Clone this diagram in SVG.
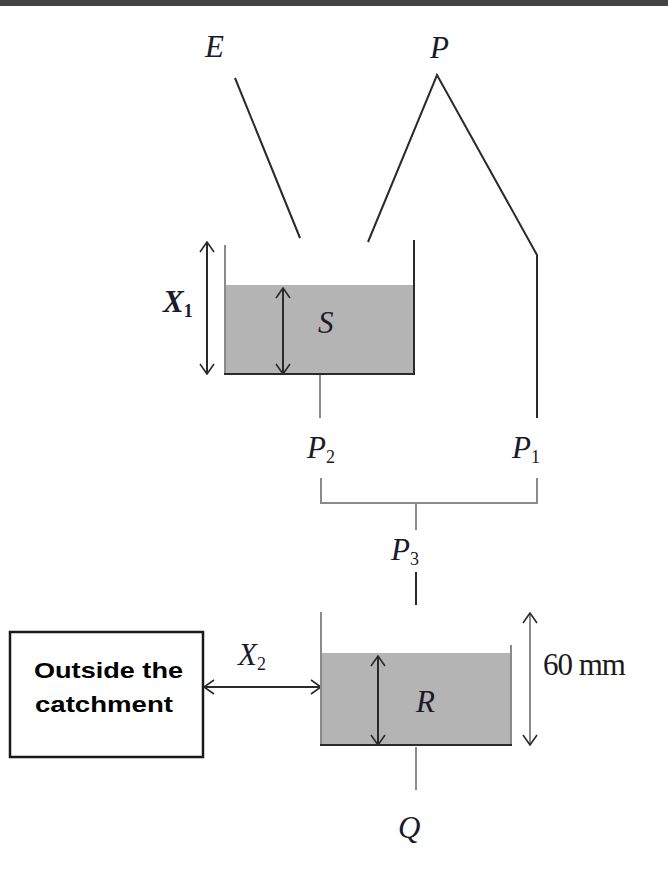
<svg xmlns="http://www.w3.org/2000/svg" width="668" height="871" viewBox="0 0 668 871">
<defs>
<style>
.ln{stroke:#2a2a2a;stroke-width:2;fill:none}
.lg{stroke:#8a8a8a;stroke-width:2;fill:none}
.fill{fill:#b4b4b4}
.it{font-family:"Liberation Serif",serif;font-style:italic;font-size:31px;fill:#1a1a2a}
.sub{font-style:normal;font-size:18px}
.bx{font-family:"Liberation Sans",Arial,sans-serif;font-weight:bold;font-size:22px;fill:#000}
</style>
<marker id="ah" viewBox="0 0 12 16" refX="11" refY="8" markerWidth="12" markerHeight="16" markerUnits="userSpaceOnUse" orient="auto-start-reverse">
<path d="M1,1 L11,8 L1,15" fill="none" stroke="#2a2a2a" stroke-width="1.6"/>
</marker>
</defs>
<rect x="0" y="0" width="668" height="6" fill="#444446"/>
<g id="connectors">
<line class="ln" x1="235" y1="78" x2="300" y2="238"/>
<polyline class="ln" points="368,242 437,75 537,255 537,418"/>
<line class="lg" x1="320" y1="375" x2="320" y2="418"/>
<polyline class="lg" points="321,478 321,503 537,503 537,478"/>
<line class="lg" x1="416" y1="503" x2="416" y2="530"/>
<line class="ln" x1="416" y1="572" x2="416" y2="605"/>
<line class="lg" x1="416" y1="747" x2="416" y2="790"/>
<line class="ln" x1="204" y1="687" x2="321" y2="687" marker-start="url(#ah)" marker-end="url(#ah)"/>
</g>
<g id="E"><text class="it" x="205" y="57">E</text></g>
<g id="P"><text class="it" x="430" y="58">P</text></g>
<g id="tankS">
<rect class="fill" x="225" y="285" width="189" height="89"/>
<line class="lg" x1="225" y1="245" x2="225" y2="374"/>
<line class="ln" x1="414" y1="240" x2="414" y2="374"/>
<line class="ln" x1="224" y1="374" x2="415" y2="374"/>
<line class="ln" x1="207" y1="242" x2="207" y2="374" marker-start="url(#ah)" marker-end="url(#ah)"/>
<line class="ln" x1="283" y1="288" x2="283" y2="374" marker-start="url(#ah)" marker-end="url(#ah)"/>
<text class="it" x="163" y="312" font-weight="bold">X<tspan class="sub" dy="5">1</tspan></text>
<text class="it" x="318" y="333">S</text>
</g>
<g id="P2"><text class="it" x="307" y="458">P<tspan class="sub" dy="5">2</tspan></text></g>
<g id="P1"><text class="it" x="512" y="458">P<tspan class="sub" dy="5">1</tspan></text></g>
<g id="P3"><text class="it" x="391" y="560">P<tspan class="sub" dy="5">3</tspan></text></g>
<g id="tankR">
<rect class="fill" x="321" y="653" width="190" height="92"/>
<line class="lg" x1="321" y1="612" x2="321" y2="745"/>
<line class="lg" x1="511" y1="645" x2="511" y2="745"/>
<line class="ln" x1="320" y1="745" x2="512" y2="745"/>
<line class="ln" x1="378" y1="656" x2="378" y2="745" marker-start="url(#ah)" marker-end="url(#ah)"/>
<line class="lg" x1="530" y1="613" x2="530" y2="745" marker-start="url(#ah)" marker-end="url(#ah)"/>
<text class="it" x="416" y="712">R</text>
<text x="543" y="675" font-family="Liberation Serif,serif" font-size="31" fill="#1a1a1a" letter-spacing="-1">60 mm</text>
</g>
<g id="X2"><text class="it" x="238" y="665">X<tspan class="sub" dy="5">2</tspan></text></g>
<g id="outside">
<rect x="10" y="632" width="193" height="125" fill="#fff" stroke="#1a1a1a" stroke-width="2.5"/>
<text class="bx" x="34" y="678" textLength="149" lengthAdjust="spacingAndGlyphs">Outside the</text>
<text class="bx" x="35" y="712" textLength="138" lengthAdjust="spacingAndGlyphs">catchment</text>
</g>
<g id="Q"><text class="it" x="398" y="838">Q</text></g>
</svg>
